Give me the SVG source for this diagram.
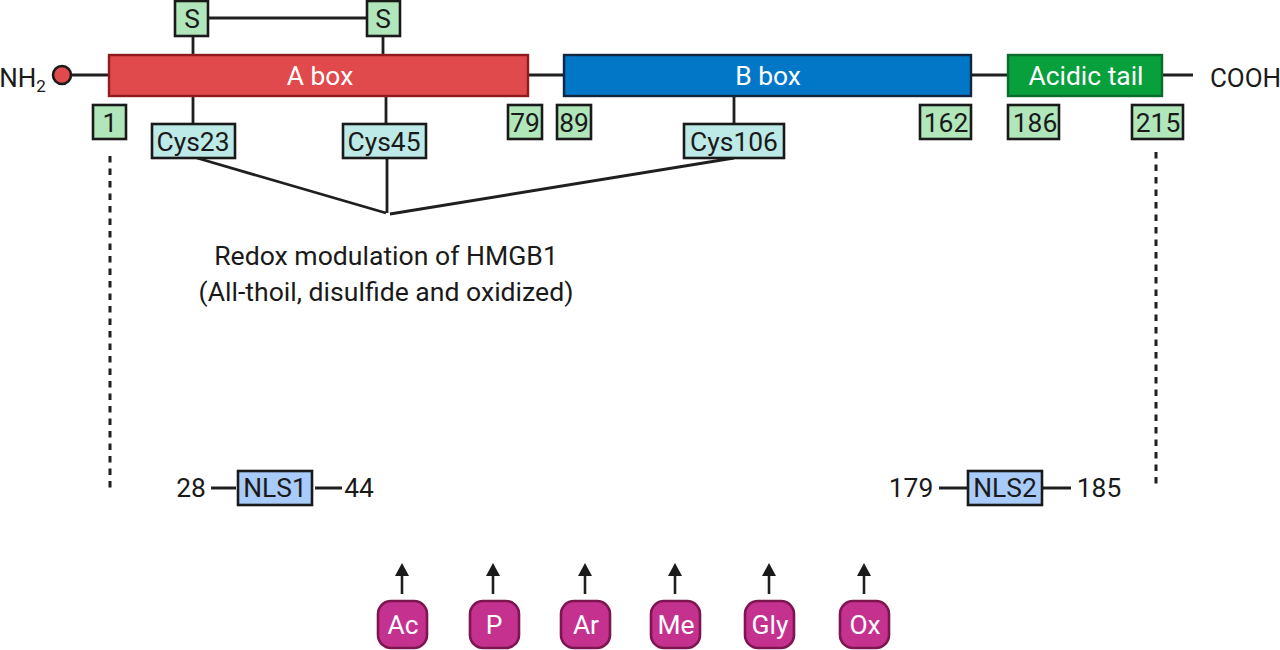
<svg xmlns="http://www.w3.org/2000/svg" width="1280" height="650" viewBox="0 0 1280 650">
<style>
text{font-family:Roboto,"Liberation Sans",sans-serif;font-size:26.4px;fill:#1a1a1a;text-anchor:middle}
.w{fill:#fff}
.l{fill:none;stroke:#1f1f1f;stroke-width:2.8}
.d{stroke-dasharray:6.5 6;stroke-width:3}
.g{fill:#b1e6bb;stroke:#1a1a1a;stroke-width:2.6}
.c{fill:#bdeae6;stroke:#1a1a1a;stroke-width:2.6}
.n{fill:#a8cbf9;stroke:#1a1a1a;stroke-width:2.6}
.p{fill:#c5318f;stroke:#7d1550;stroke-width:2.6}
.a{fill:none;stroke:#1f1f1f;stroke-width:2.6}
</style>
<defs>
<marker id="ah" markerUnits="userSpaceOnUse" markerWidth="13" markerHeight="14" refX="0" refY="7" orient="auto" viewBox="0 0 13 14"><path d="M0 0L13 7L0 14Z" fill="#1a1a1a"/></marker>
</defs>
<g id="connectors">
<path class="l" d="M72 75H109M528 75H564M971 75H1008M1162 75H1193"/>
<path class="l" d="M208 18H367M193 36V55M383 36V55"/>
<path class="l" d="M193 96V124M386 96V124M734 96V124"/>
<path class="l" d="M197 158L386 213M387 158V213M390 214L734 158"/>
<path class="l d" d="M110 156V488M1156 152V486"/>
<path class="l" d="M211 488H236M315 488H342M939 488H967M1043 488H1071"/>
<path class="a" marker-end="url(#ah)" d="M402 594V576"/>
<path class="a" marker-end="url(#ah)" d="M493 594V576"/>
<path class="a" marker-end="url(#ah)" d="M585 594V576"/>
<path class="a" marker-end="url(#ah)" d="M675 594V576"/>
<path class="a" marker-end="url(#ah)" d="M769 594V576"/>
<path class="a" marker-end="url(#ah)" d="M864 594V576"/>
</g>
<g id="nh2"><text x="22.5" y="87" style="font-size:26px">NH<tspan dy="5" font-size="17">2</tspan></text><circle cx="62" cy="75" r="9" fill="#e04a4d" stroke="#1a1a1a" stroke-width="2.6"/></g>
<g id="cooh"><text x="1245.5" y="87" style="font-size:26px">COOH</text></g>
<g id="a-box"><rect x="109" y="55" width="419" height="41" fill="#e04a4d" stroke="#8f1a1f" stroke-width="2.4"/><text class="w" x="320" y="85">A box</text></g>
<g id="b-box"><rect x="564" y="55" width="407" height="41" fill="#0277c8" stroke="#12263f" stroke-width="2.4"/><text class="w" x="768" y="85">B box</text></g>
<g id="acidic-tail"><rect x="1008" y="55" width="154" height="41" fill="#07a03d" stroke="#0b6b2c" stroke-width="2.4"/><text class="w" x="1086" y="85">Acidic tail</text></g>
<g id="s1"><rect class="g" x="175" y="1" width="33" height="35"/><text x="192" y="28">S</text></g>
<g id="s2"><rect class="g" x="367" y="1" width="33" height="35"/><text x="383" y="28">S</text></g>
<g id="n1"><rect class="g" x="93" y="105" width="33" height="34"/><text x="110" y="132">1</text></g>
<g id="n79"><rect class="g" x="508" y="105" width="34" height="34"/><text x="525" y="132">79</text></g>
<g id="n89"><rect class="g" x="557" y="105" width="34" height="34"/><text x="574" y="132">89</text></g>
<g id="n162"><rect class="g" x="920" y="105" width="51" height="34"/><text x="946" y="132">162</text></g>
<g id="n186"><rect class="g" x="1008" y="105" width="51" height="34"/><text x="1035" y="132">186</text></g>
<g id="n215"><rect class="g" x="1132" y="105" width="51" height="34"/><text x="1158" y="132">215</text></g>
<g id="cys23"><rect class="c" x="152" y="124" width="83" height="34"/><text x="193" y="151">Cys23</text></g>
<g id="cys45"><rect class="c" x="343" y="124" width="83" height="34"/><text x="384" y="151">Cys45</text></g>
<g id="cys106"><rect class="c" x="684" y="124" width="100" height="34"/><text x="734" y="151">Cys106</text></g>
<g id="redox"><text x="386" y="265" style="font-size:26.6px">Redox modulation of HMGB1</text><text x="386" y="301" style="font-size:26.6px">(All-thoil, disulfide and oxidized)</text></g>
<g id="nls1"><text x="191" y="497">28</text><rect class="n" x="238" y="471" width="74" height="34"/><text x="275" y="497">NLS1</text><text x="359" y="497">44</text></g>
<g id="nls2"><text x="911" y="497">179</text><rect class="n" x="968" y="471" width="74" height="34"/><text x="1005" y="497">NLS2</text><text x="1099" y="497">185</text></g>
<g id="ac"><rect class="p" x="378" y="601" width="49" height="47" rx="13"/><text class="w" x="403" y="634">Ac</text></g>
<g id="ph"><rect class="p" x="470" y="601" width="49" height="47" rx="13"/><text class="w" x="494" y="634">P</text></g>
<g id="ar"><rect class="p" x="561" y="601" width="49" height="47" rx="13"/><text class="w" x="586" y="634">Ar</text></g>
<g id="me"><rect class="p" x="651" y="601" width="49" height="47" rx="13"/><text class="w" x="676" y="634">Me</text></g>
<g id="gly"><rect class="p" x="745" y="601" width="49" height="47" rx="13"/><text class="w" x="770" y="634">Gly</text></g>
<g id="ox"><rect class="p" x="840" y="601" width="49" height="47" rx="13"/><text class="w" x="865" y="634">Ox</text></g>
</svg>
